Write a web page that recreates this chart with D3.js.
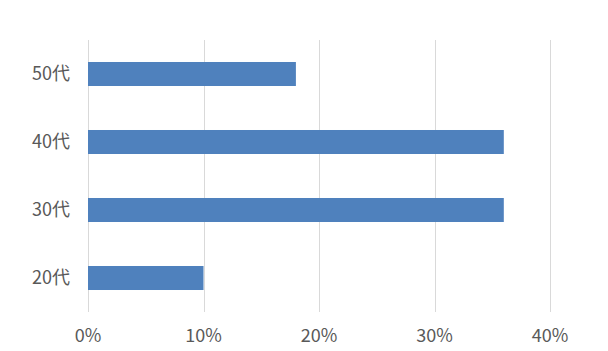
<!DOCTYPE html>
<html>
<head>
<meta charset="utf-8">
<script src="https://cdn.jsdelivr.net/npm/d3@7"></script>
<style>
  body { margin: 0; background: #fff; }
  text { font-family: "Noto Sans CJK JP", "Noto Sans", sans-serif; fill: #595959; }
</style>
</head>
<body>
<svg width="608" height="351"></svg>
<script>
// data
const ages = ["50代", "40代", "30代", "20代"];
const shares = [18, 36, 36, 10];
const xTicks = [0, 10, 20, 30, 40];

const margin = {top: 40, left: 88, right: 58, bottom: 39};
const width = 608, height = 351;

const svg = d3.select("svg");

const x = d3.scaleLinear().domain([0, 40]).range([margin.left, width - margin.right]);
const y = d3.scaleBand().domain(ages).range([margin.top, height - margin.bottom]).paddingInner(0.647).paddingOuter(0.3235);

// vertical gridlines
svg.append("g").selectAll("line")
    .data(xTicks).enter()
    .append("line")
    .attr("x1", d => Math.round(x(d)) + 0.5)
    .attr("x2", d => Math.round(x(d)) + 0.5)
    .attr("y1", margin.top)
    .attr("y2", height - margin.bottom)
    .attr("stroke", "#d9d9d9")
    .attr("stroke-width", 1);

// bars
svg.append("g").selectAll("rect")
    .data(ages).enter()
    .append("rect")
    .attr("x", x(0))
    .attr("y", d => y(d))
    .attr("width", (d, i) => x(shares[i]) - x(0))
    .attr("height", y.bandwidth())
    .attr("fill", "#4f81bd");

// category labels
svg.append("g").selectAll("text")
    .data(ages).enter()
    .append("text")
    .attr("x", 70)
    .attr("y", d => y(d) + y.bandwidth() / 2)
    .attr("dy", "0.35em")
    .attr("text-anchor", "end")
    .style("font-size", "18px")
    .text(d => d);

// x tick labels
svg.append("g").selectAll("text")
    .data(xTicks).enter()
    .append("text")
    .attr("x", d => x(d))
    .attr("y", 336)
    .attr("dy", "0.35em")
    .attr("text-anchor", "middle")
    .style("font-size", "18px")
    .text(d => d + "%");
</script>
</body>
</html>
